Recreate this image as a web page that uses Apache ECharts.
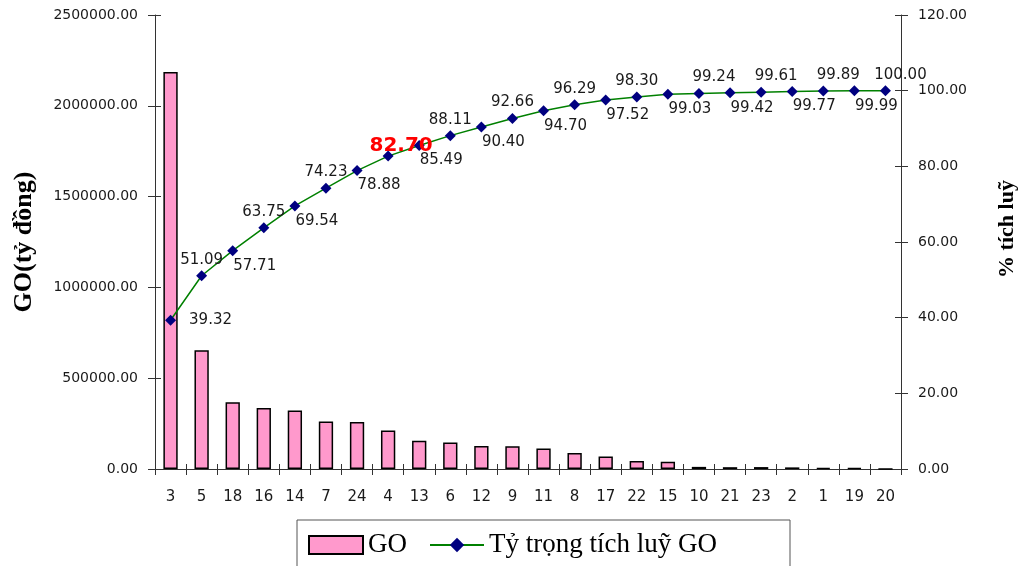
<!DOCTYPE html>
<html>
<head>
<meta charset="utf-8">
<script src="https://cdn.jsdelivr.net/npm/echarts@6/dist/echarts.min.js"></script>
<style>html,body{margin:0;padding:0;background:#fff;}#c{width:1026px;height:566px;}</style>
</head>
<body>
<div id="c"></div>
<script>
const categories = ['3','5','18','16','14','7','24','4','13','6','12','9','11','8','17','22','15','10','21','23','2','1','19','20'];
const goValues = [2186000,654000,368000,336000,322000,261000,258500,212000,155000,145600,127000,125600,113000,88400,68400,43400,40600,11700,10000,10600,8900,6700,5600,600];
const cumPercent = [39.32,51.09,57.71,63.75,69.54,74.23,78.88,82.70,85.49,88.11,90.40,92.66,94.70,96.29,97.52,98.30,99.03,99.24,99.42,99.61,99.77,99.89,99.99,100.00];
const highlightIndex = 7;
const leftName = 'GO(tỷ đồng)';
const rightName = '% tích luỹ';
const barName = 'GO';
const lineName = 'Tỷ trọng tích luỹ GO';

const tickFont = {fontFamily: 'DejaVu Sans', fontSize: 14, color: '#1a1a1a'};

const lineData = cumPercent.map((v, i) => {
  let label;
  if (i === highlightIndex) {
    label = {position: 'top', distance: 0, offset: [13, 5], color: '#ff0000', fontWeight: 'bold', fontSize: 20};
  } else if (i === 0) {
    label = {position: 'right', distance: 13};
  } else if (i % 2 === 0) {
    label = {position: 'bottom', distance: 2, offset: [22, 0]};
  } else {
    label = {position: 'top', distance: 3, offset: [i > 16 ? 15 : 0, 0]};
  }
  return {value: v, label: label};
});

const chart = echarts.init(document.getElementById('c'), null, {renderer: 'canvas'});
chart.setOption({
  animation: false,
  backgroundColor: '#fff',
  grid: {left: 155, right: 123, top: 15, bottom: 97},
  legend: {
    left: 297, top: 520,
    orient: 'horizontal',
    itemWidth: 54, itemHeight: 18, itemGap: 15,
    padding: [10, 11, 20, 11],
    borderColor: '#555', borderWidth: 1,
    textStyle: {fontFamily: 'Liberation Serif', fontSize: 27, color: '#000', lineHeight: 30},
    data: [
      {name: barName, icon: 'rect', textStyle: {width: 46}},
      {name: lineName, textStyle: {width: 290}}
    ]
  },
  xAxis: [
    {
      type: 'category', data: categories, position: 'bottom', boundaryGap: true,
      axisLine: {show: true, lineStyle: {color: '#333', width: 1}},
      axisTick: {show: true, inside: false, length: 6, lineStyle: {color: '#333'}},
      axisLabel: {show: true, interval: 0, margin: 21, fontFamily: 'DejaVu Sans', fontSize: 15, color: '#1a1a1a'}
    },
    {
      type: 'category', data: categories, position: 'bottom', boundaryGap: true,
      axisLine: {show: false},
      axisTick: {show: true, inside: true, length: 5, lineStyle: {color: '#333'}},
      axisLabel: {show: false}
    }
  ],
  yAxis: [
    {
      type: 'value', position: 'left', min: 0, max: 2500000, interval: 500000,
      name: leftName, nameLocation: 'middle', nameRotate: 90, nameGap: 118,
      nameTextStyle: {fontFamily: 'Liberation Serif', fontWeight: 'bold', fontSize: 26, color: '#000'},
      axisLine: {show: true, lineStyle: {color: '#333', width: 1}},
      axisTick: {show: true, inside: false, length: 7, lineStyle: {color: '#333'}},
      axisLabel: Object.assign({margin: 17, formatter: v => v.toFixed(2)}, tickFont),
      splitLine: {show: false}
    },
    {
      type: 'value', position: 'right', min: 0, max: 120, interval: 20,
      name: rightName, nameLocation: 'middle', nameRotate: 90, nameGap: 95,
      nameTextStyle: {fontFamily: 'Liberation Serif', fontWeight: 'bold', fontSize: 22, color: '#000', padding: [0, 0, 0, 26]},
      axisLine: {show: true, lineStyle: {color: '#333', width: 1}},
      axisTick: {show: true, inside: false, length: 7, lineStyle: {color: '#333'}},
      axisLabel: Object.assign({margin: 17, formatter: v => v.toFixed(2)}, tickFont),
      splitLine: {show: false}
    },
    {
      type: 'value', position: 'left', min: 0, max: 2500000, interval: 500000,
      axisLine: {show: false}, axisLabel: {show: false}, splitLine: {show: false},
      axisTick: {show: true, inside: true, length: 6, lineStyle: {color: '#333'}}
    },
    {
      type: 'value', position: 'right', min: 0, max: 120, interval: 20,
      axisLine: {show: false}, axisLabel: {show: false}, splitLine: {show: false},
      axisTick: {show: true, inside: true, length: 6, lineStyle: {color: '#333'}}
    }
  ],
  series: [
    {
      name: barName, type: 'bar', xAxisIndex: 0, yAxisIndex: 0,
      data: goValues, barWidth: '46%',
      itemStyle: {color: '#ff99cc', borderColor: '#000', borderWidth: 1.5}
    },
    {
      name: lineName, type: 'line', xAxisIndex: 0, yAxisIndex: 1,
      data: lineData,
      symbol: 'diamond', symbolSize: 11,
      lineStyle: {color: '#008000', width: 1.5},
      itemStyle: {color: '#000080'},
      label: {show: true, formatter: p => p.value.toFixed(2), fontFamily: 'DejaVu Sans', fontSize: 15, color: '#1a1a1a'},
      z: 5
    }
  ]
});
</script>
</body>
</html>
